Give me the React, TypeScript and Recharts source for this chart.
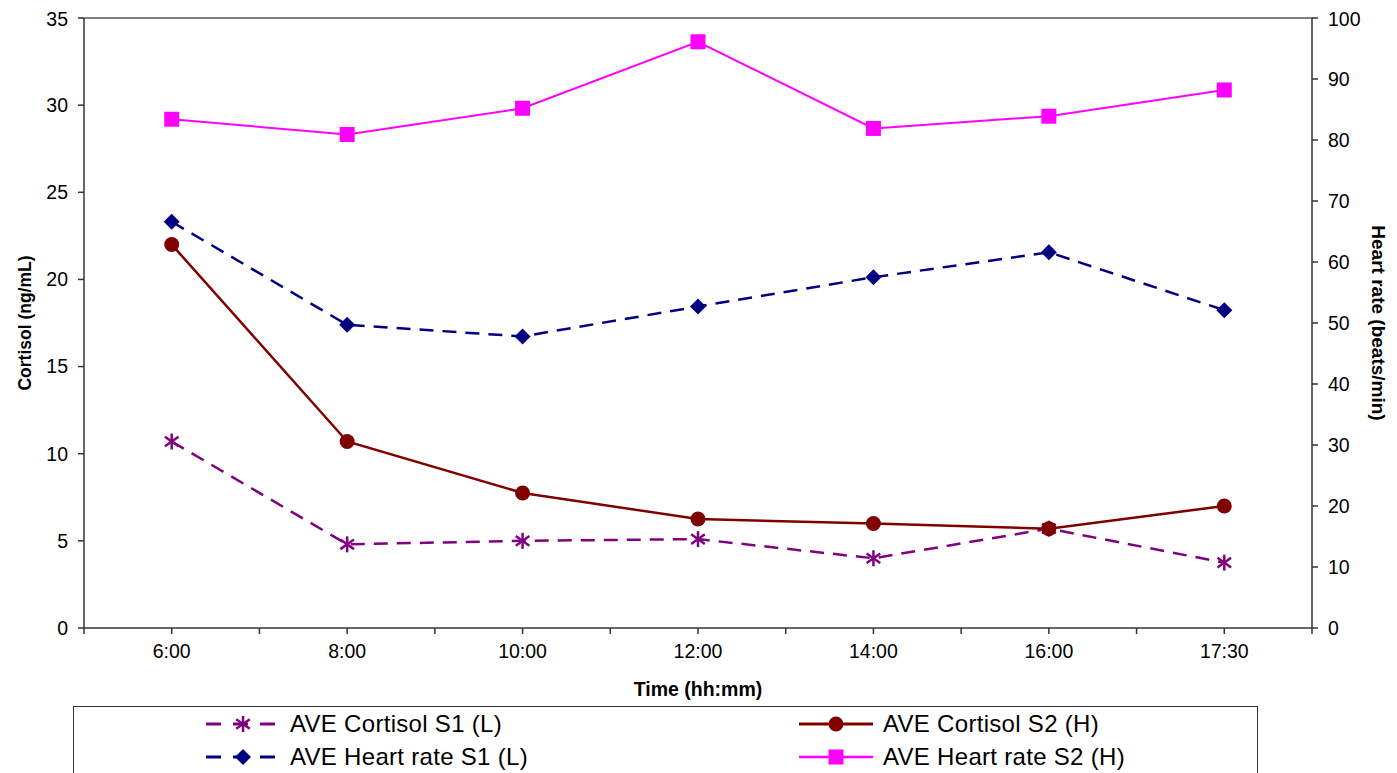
import React from 'react';
import {
  ComposedChart,
  Line,
  XAxis,
  YAxis,
  ReferenceLine,
} from 'recharts';

const times = ['6:00', '8:00', '10:00', '12:00', '14:00', '16:00', '17:30'];
const cortisolS1 = [10.7, 4.8, 5.0, 5.1, 4.0, 5.7, 3.75];
const cortisolS2 = [22.0, 10.7, 7.75, 6.25, 6.0, 5.7, 7.0];
const heartS1 = [66.6, 49.7, 47.8, 52.7, 57.5, 61.6, 52.1];
const heartS2 = [83.4, 80.9, 85.2, 96.1, 81.9, 83.9, 88.2];

const cortisolTicks = [0, 5, 10, 15, 20, 25, 30, 35];
const heartTicks = [0, 10, 20, 30, 40, 50, 60, 70, 80, 90, 100];
// tick marks at every category centre and every category boundary (Excel style)
const xTicks = [0, 0.5, 1, 1.5, 2, 2.5, 3, 3.5, 4, 4.5, 5, 5.5, 6, 6.5, 7];

// each category sits in the middle of its slot
const data = times.map((t, i) => ({
  time: t,
  pos: i + 0.5,
  cS1: cortisolS1[i],
  cS2: cortisolS2[i],
  hS1: heartS1[i],
  hS2: heartS2[i],
}));

const timeLabel = (v: number) => (Number.isInteger(v) ? '' : times[Math.floor(v)] ?? '');

const FONT = 'Liberation Sans, Arial, sans-serif';

type Shape = 'star' | 'circle' | 'diamond' | 'square';

const series = [
  { key: 'cS1', name: 'AVE Cortisol S1 (L)', color: '#800080', dash: '14 9', shape: 'star' as Shape, axis: 'left', width: 2.5 },
  { key: 'cS2', name: 'AVE Cortisol S2 (H)', color: '#800000', dash: undefined, shape: 'circle' as Shape, axis: 'left', width: 2.5 },
  { key: 'hS1', name: 'AVE Heart rate S1 (L)', color: '#000080', dash: '14 9', shape: 'diamond' as Shape, axis: 'right', width: 2.5 },
  { key: 'hS2', name: 'AVE Heart rate S2 (H)', color: '#FF00FF', dash: undefined, shape: 'square' as Shape, axis: 'right', width: 2 },
];

function Marker({ cx, cy, shape, color }: { cx: number; cy: number; shape: Shape; color: string }) {
  if (cx == null || cy == null) return null;
  if (shape === 'circle') return <circle cx={cx} cy={cy} r={7.5} fill={color} />;
  if (shape === 'square') return <rect x={cx - 7.5} y={cy - 7.5} width={15} height={15} fill={color} />;
  if (shape === 'diamond')
    return <polygon points={`${cx},${cy - 8} ${cx + 8},${cy} ${cx},${cy + 8} ${cx - 8},${cy}`} fill={color} />;
  const r = 8;
  return (
    <g stroke={color} strokeWidth={2.5}>
      <line x1={cx} y1={cy - r} x2={cx} y2={cy + r} />
      <line x1={cx - r * 0.85} y1={cy - r * 0.6} x2={cx + r * 0.85} y2={cy + r * 0.6} />
      <line x1={cx - r * 0.85} y1={cy + r * 0.6} x2={cx + r * 0.85} y2={cy - r * 0.6} />
    </g>
  );
}

function LegendIcon({ s }: { s: (typeof series)[number] }) {
  return (
    <svg width={74} height={22} style={{ display: 'block' }}>
      <line x1={0} y1={11} x2={74} y2={11} stroke={s.color} strokeWidth={s.width + 0.5} strokeDasharray={s.dash ? '15 12' : undefined} />
      <Marker cx={37} cy={11} shape={s.shape} color={s.color} />
    </svg>
  );
}

export default function App() {
  const order = [series[0], series[1], series[2], series[3]];
  return (
    <div style={{ position: 'relative', width: 1381, height: 765, fontFamily: FONT }}>
      <ComposedChart
        width={1381}
        height={765}
        data={data}
        margin={{ top: 10, right: 0, left: 10, bottom: 77 }}
        style={{ overflow: 'visible' }}
      >
        <XAxis
          dataKey='pos'
          type='number'
          domain={[0, 7]}
          ticks={xTicks}
          tickFormatter={timeLabel}
          interval={0}
          height={68}
          tickSize={6}
          tickMargin={10}
          stroke='#333'
          strokeWidth={1.5}
          tick={{ fill: '#000', fontSize: 19.5, fontFamily: FONT }}
          allowDataOverflow
          label={{
            value: 'Time (hh:mm)',
            position: 'insideBottom',
            offset: 0,
            style: { fill: '#000', fontSize: 19.5, fontWeight: 'bold', fontFamily: FONT },
          }}
        />
        <YAxis
          yAxisId='left'
          domain={[0, 35]}
          ticks={cortisolTicks}
          width={66}
          tickSize={6}
          tickMargin={10}
          stroke='#333'
          strokeWidth={1.5}
          tick={{ fill: '#000', fontSize: 19.5, fontFamily: FONT }}
          label={{
            value: 'Cortisol (ng/mL)',
            angle: -90,
            position: 'insideLeft',
            offset: 7,
            style: { textAnchor: 'middle', fill: '#000', fontSize: 17.5, fontWeight: 'bold', fontFamily: FONT },
          }}
        />
        <YAxis
          yAxisId='right'
          orientation='right'
          domain={[0, 100]}
          ticks={heartTicks}
          width={77}
          tickSize={6}
          tickMargin={10}
          stroke='#333'
          strokeWidth={1.5}
          tick={{ fill: '#000', fontSize: 19.5, fontFamily: FONT }}
          label={{
            value: 'Heart rate (beats/min)',
            angle: 90,
            position: 'insideRight',
            offset: 10,
            style: { textAnchor: 'middle', fill: '#000', fontSize: 19, fontWeight: 'bold', fontFamily: FONT },
          }}
        />
        <ReferenceLine yAxisId='left' y={35} stroke='#808080' strokeWidth={2} />
        {series.map((s) => (
          <Line
            key={s.key}
            yAxisId={s.axis}
            dataKey={s.key}
            name={s.name}
            stroke={s.color}
            strokeWidth={s.width}
            strokeDasharray={s.dash}
            dot={(p: any) => <Marker key={`${s.key}-${p.index}`} cx={p.cx} cy={p.cy} shape={s.shape} color={s.color} />}
            activeDot={false}
            isAnimationActive={false}
          />
        ))}
      </ComposedChart>
      <div
        style={{
          position: 'absolute',
          left: 65,
          top: 698,
          width: 1185,
          height: 90,
          border: '1.5px solid #333',
          boxSizing: 'border-box',
          paddingLeft: 132,
          display: 'grid',
          gridTemplateColumns: '593px 1fr',
          gridAutoRows: '33px',
          fontSize: 24,
          letterSpacing: 0.3,
          color: '#000',
        }}
      >
        {order.map((s) => (
          <div key={s.key} style={{ display: 'flex', alignItems: 'center', gap: 10, whiteSpace: 'nowrap' }}>
            <LegendIcon s={s} />
            <span>{s.name}</span>
          </div>
        ))}
      </div>
    </div>
  );
}
